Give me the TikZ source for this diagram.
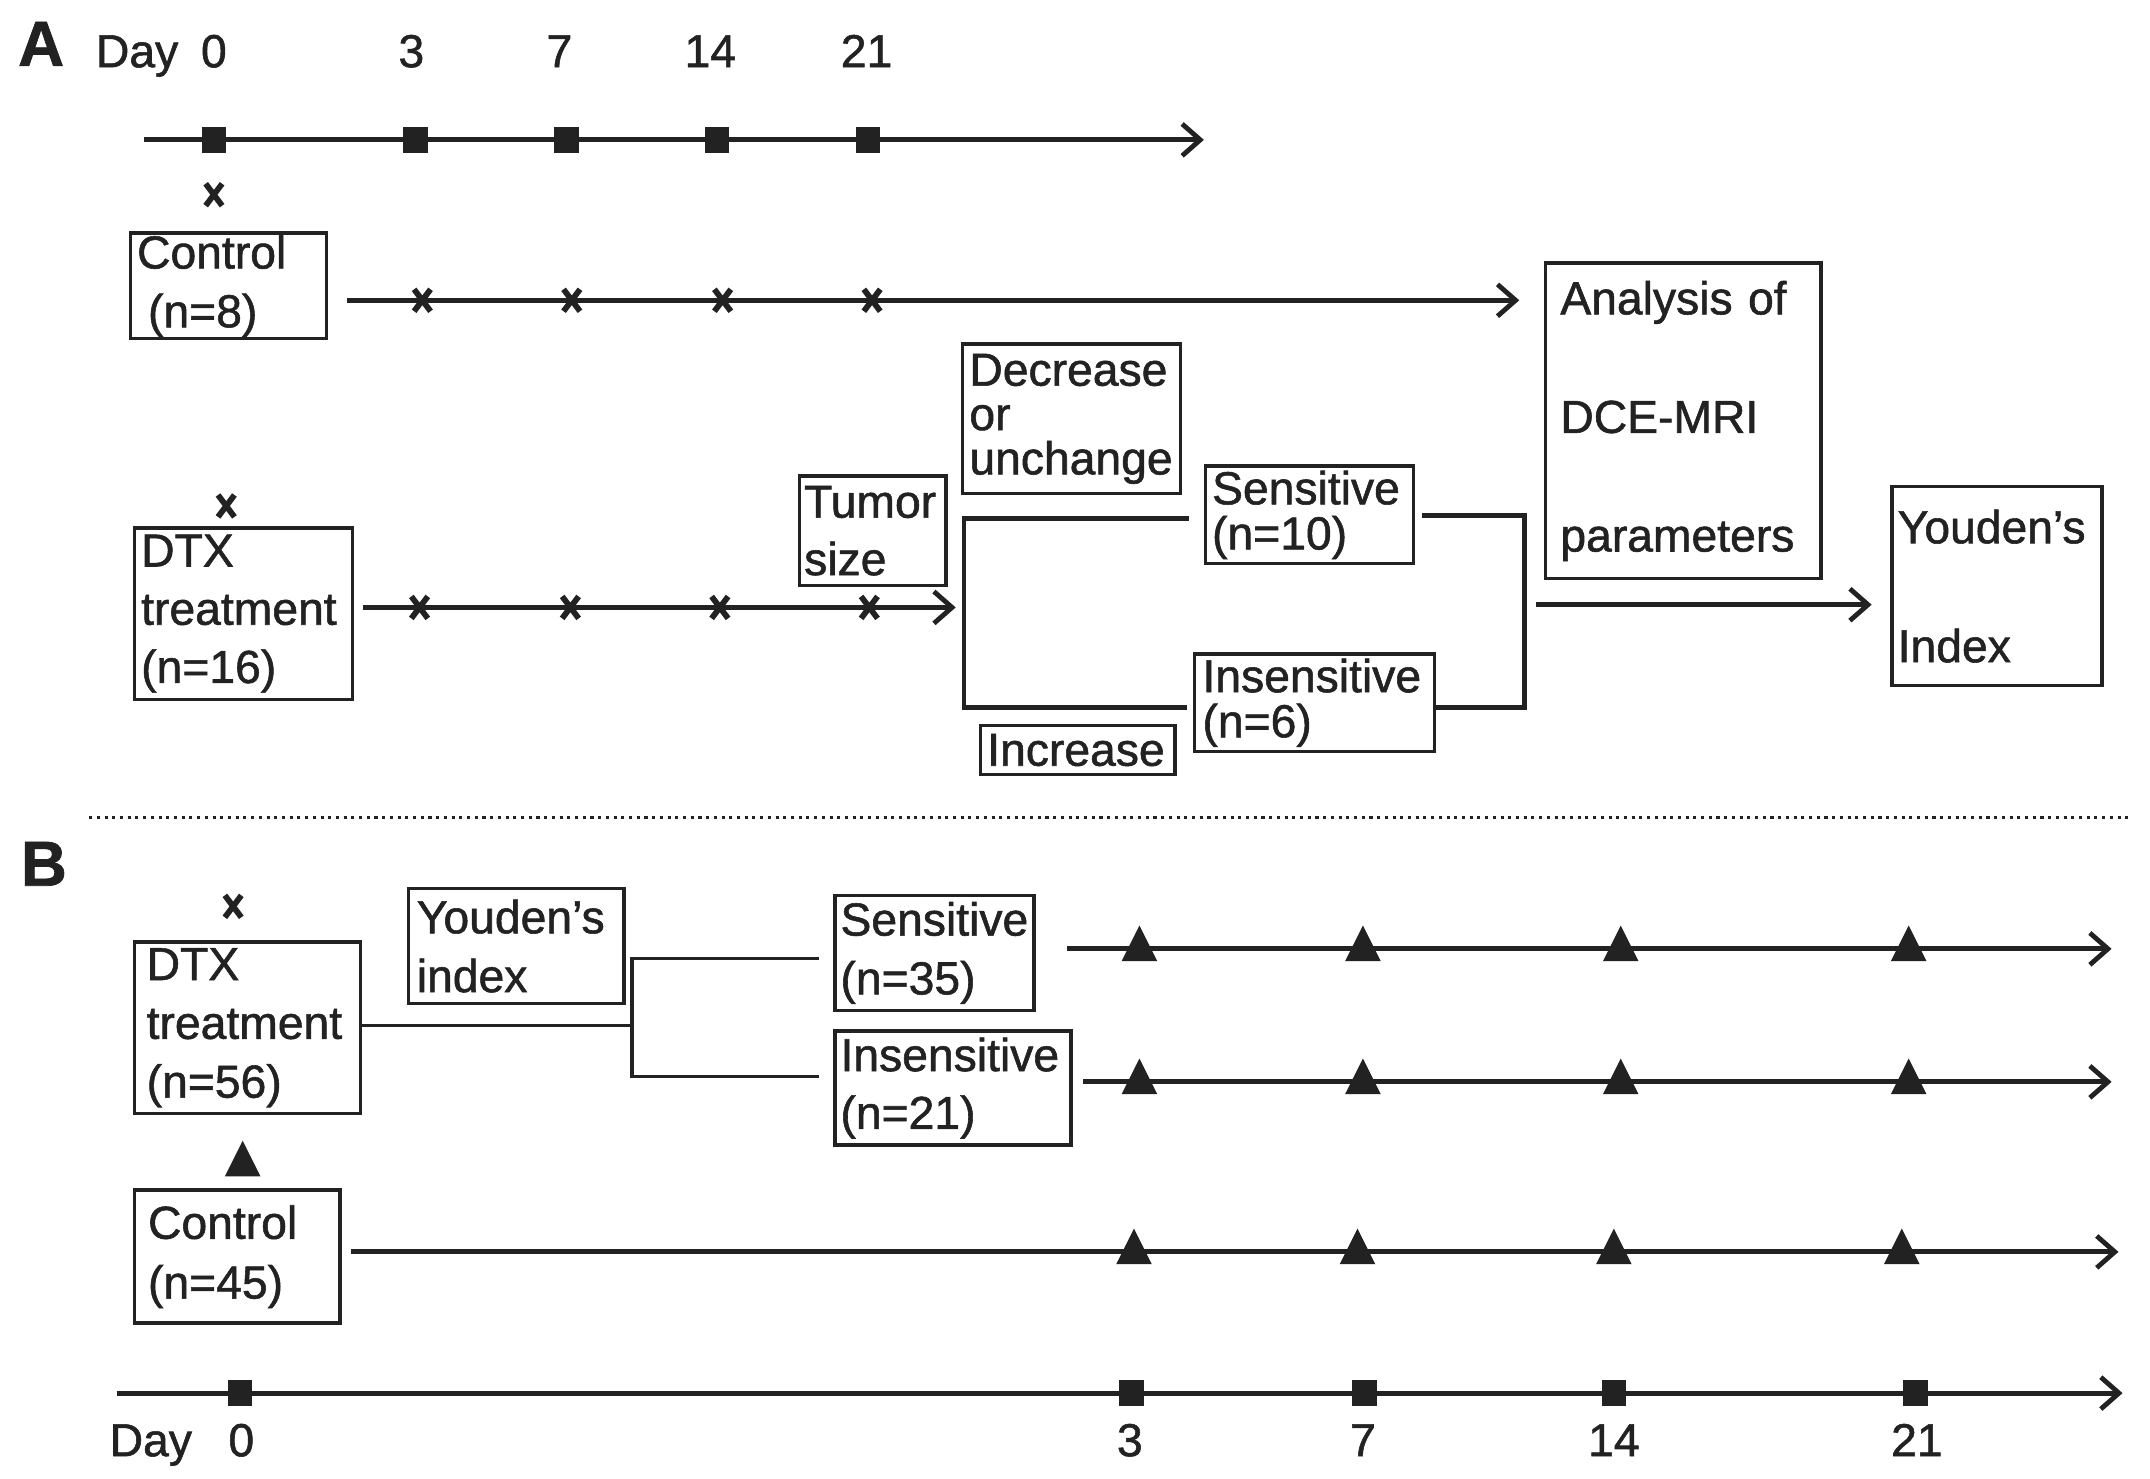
\documentclass[tikz,border=0pt]{standalone}
\usepackage{fontspec}
\setmainfont[FakeBold=1.2]{Liberation Sans}
\usetikzlibrary{arrows.meta}
\definecolor{ink}{HTML}{222222}
\begin{document}
\begin{tikzpicture}[x=0.025cm, y=-0.025cm,
  bx/.style={draw=ink, line width=1.8pt, rectangle, inner xsep=0pt, inner ysep=0pt,
    align=left, text=ink, font=\fontsize{24}{30.5}\selectfont},
  lbl/.style={text=ink, inner sep=0pt, font=\fontsize{24}{28}\selectfont},
  ln/.style={draw=ink, line width=2.5pt},
  thinln/.style={draw=ink, line width=1.8pt},
  arr/.style={ln, -{Straight Barb[length=0.33cm, width=0.58cm]}},
  pics/xmk/.style={code={\draw[ink, line width=3pt] (-6,-8) -- (6,8) (-6,8) -- (6,-8);}},
  pics/sqm/.style={code={\fill[ink] (-9,-9.5) rectangle (9,9.5);}},
  pics/trim/.style={code={\fill[ink] (-13,9) -- (13,9) -- (0,-17) -- cycle;}},
  pics/trisolo/.style={code={\fill[ink] (-13,13) -- (13,13) -- (0,-13) -- cycle;}}
]
\useasboundingbox (0,0) rectangle (1568,1078);

% ---------------- Panel A ----------------
\node[lbl, font=\bfseries\fontsize{33}{33}\selectfont] (labA) at (30,32) {A};
\node[lbl, anchor=base] (dA) at (100,49) {Day};
\node[lbl, anchor=base] (dA0) at (156,49) {0};
\node[lbl, anchor=base] (dA3) at (300,49) {3};
\node[lbl, anchor=base] (dA7) at (408,49) {7};
\node[lbl, anchor=base] (dA14) at (518,49) {14};
\node[lbl, anchor=base] (dA21) at (632,49) {21};

\coordinate (tAs) at (105,102);
\coordinate (tAe) at (878,102);
\draw[arr] (tAs) -- (tAe);
\foreach \x in {156,303,413,523,633} \pic at (\x,102) {sqm};

\pic at (156,142) {xmk};
\node[bx, minimum width=3.575cm, minimum height=1.925cm, text width=3.325cm] (ctrlA) at (166.5,208.5) {Control\\\hspace*{0.2cm}(n=8)};
\coordinate (cAs) at (253,219);
\coordinate (cAe) at (1108,219);
\draw[arr] (cAs) -- (cAe);
\foreach \x in {308,417,527,636} \pic at (\x,219) {xmk};

\node[bx, minimum width=5.025cm, minimum height=5.75cm, text width=4.475cm, font=\fontsize{24}{61.5}\selectfont] (anaA) at (1227.5,307) {Analysis of\\DCE-MRI\\parameters};

\node[bx, minimum width=3.975cm, minimum height=2.725cm, text width=3.725cm, font=\fontsize{24}{23}\selectfont] (decA) at (781.5,305.5) {Decrease\\or\\unchange};

\pic at (165,369) {xmk};
\node[bx, minimum width=3.975cm, minimum height=3.125cm, text width=3.725cm, font=\fontsize{24}{30.2}\selectfont] (dtxA) at (177.5,447.5) {DTX\\treatment\\(n=16)};
\coordinate (dAs) at (265,443);
\coordinate (dAe) at (697,443);
\draw[arr] (dAs) -- (dAe);
\foreach \x in {306,416,525,634} \pic at (\x,443) {xmk};

\node[bx, minimum width=2.675cm, minimum height=2.0cm, text width=2.5cm, font=\fontsize{24}{29.8}\selectfont] (tumA) at (636.5,387) {Tumor\\size};

\node[bx, minimum width=3.8cm, minimum height=1.775cm, text width=3.55cm, font=\fontsize{24}{23.4}\selectfont] (senA) at (955,375.5) {Sensitive\\(n=10)};
\node[bx, minimum width=4.375cm, minimum height=1.775cm, text width=4.075cm, font=\fontsize{24}{23.4}\selectfont] (insA) at (958.5,512.5) {Insensitive\\(n=6)};
\node[bx, minimum width=3.55cm, minimum height=0.9cm, text width=3.3cm] (incA) at (786,547) {Increase};

\coordinate (bLt) at (867,378);
\coordinate (bLb) at (866,516);
\draw[ln] (bLt) -- (703,378) -- (703,516) -- (bLb);
\coordinate (bRt) at (1037,376);
\coordinate (bRb) at (1046,516);
\draw[ln] (bRt) -- (1112,376) -- (1112,516) -- (bRb);

\coordinate (yAs) at (1120,441);
\coordinate (yAe) at (1365,441);
\draw[arr] (yAs) -- (yAe);
\node[bx, minimum width=3.825cm, minimum height=3.625cm, text width=3.625cm, font=\fontsize{24}{61.7}\selectfont] (youA) at (1456.5,427.5) {Youden’s\\Index};

% separator
\coordinate (sepS) at (65,596);
\coordinate (sepE) at (1555,596);
\draw[ink, line width=1.6pt, dash pattern=on 1.6pt off 2.4pt] (sepS) -- (sepE);

% ---------------- Panel B ----------------
\node[lbl, font=\bfseries\fontsize{33}{33}\selectfont] (labB) at (32,630) {B};

\pic at (170,661) {xmk};
\node[bx, minimum width=4.125cm, minimum height=3.125cm, text width=3.675cm] (dtxB) at (180.5,749.5) {DTX\\treatment\\(n=56)};
\node[bx, minimum width=3.925cm, minimum height=2.1cm, text width=3.625cm] (youB) at (376.5,690) {Youden’s\\index};
\node[bx, minimum width=3.625cm, minimum height=2.1cm, text width=3.425cm] (senB) at (681.5,695) {Sensitive\\(n=35)};
\node[bx, minimum width=4.3cm, minimum height=2.075cm, text width=4.1cm, font=\fontsize{24}{30}\selectfont] (insB) at (695,793.5) {Insensitive\\(n=21)};

\coordinate (brS) at (263,748);
\coordinate (brT) at (597,699);
\coordinate (brB) at (597,785);
\draw[thinln] (brS) -- (461,748);
\draw[thinln] (brT) -- (461,699) -- (461,785) -- (brB);

\coordinate (sBs) at (778,692);
\coordinate (sBe) at (1540,692);
\draw[arr] (sBs) -- (sBe);
\foreach \x in {831,994,1182,1392} \pic at (\x,692) {trim};

\coordinate (iBs) at (790,789);
\coordinate (iBe) at (1540,789);
\draw[arr] (iBs) -- (iBe);
\foreach \x in {831,994,1182,1392} \pic at (\x,789) {trim};

\pic at (177,845) {trisolo};
\node[bx, minimum width=3.75cm, minimum height=2.425cm, text width=3.25cm, font=\fontsize{24}{31}\selectfont] (ctrlB) at (173,916.5) {Control\\(n=45)};

\coordinate (cBs) at (256,913);
\coordinate (cBe) at (1545,913);
\draw[arr] (cBs) -- (cBe);
\foreach \x in {827,990,1177,1387} \pic at (\x,913) {trim};

\coordinate (tBs) at (85,1016);
\coordinate (tBe) at (1548,1016);
\draw[arr] (tBs) -- (tBe);
\foreach \x in {175,825,995,1177,1397} \pic at (\x,1016) {sqm};

\node[lbl, anchor=base] (dB) at (110,1062) {Day};
\node[lbl, anchor=base] (dB0) at (176,1062) {0};
\node[lbl, anchor=base] (dB3) at (824,1062) {3};
\node[lbl, anchor=base] (dB7) at (994,1062) {7};
\node[lbl, anchor=base] (dB14) at (1177,1062) {14};
\node[lbl, anchor=base] (dB21) at (1398,1062) {21};
\end{tikzpicture}
\end{document}
